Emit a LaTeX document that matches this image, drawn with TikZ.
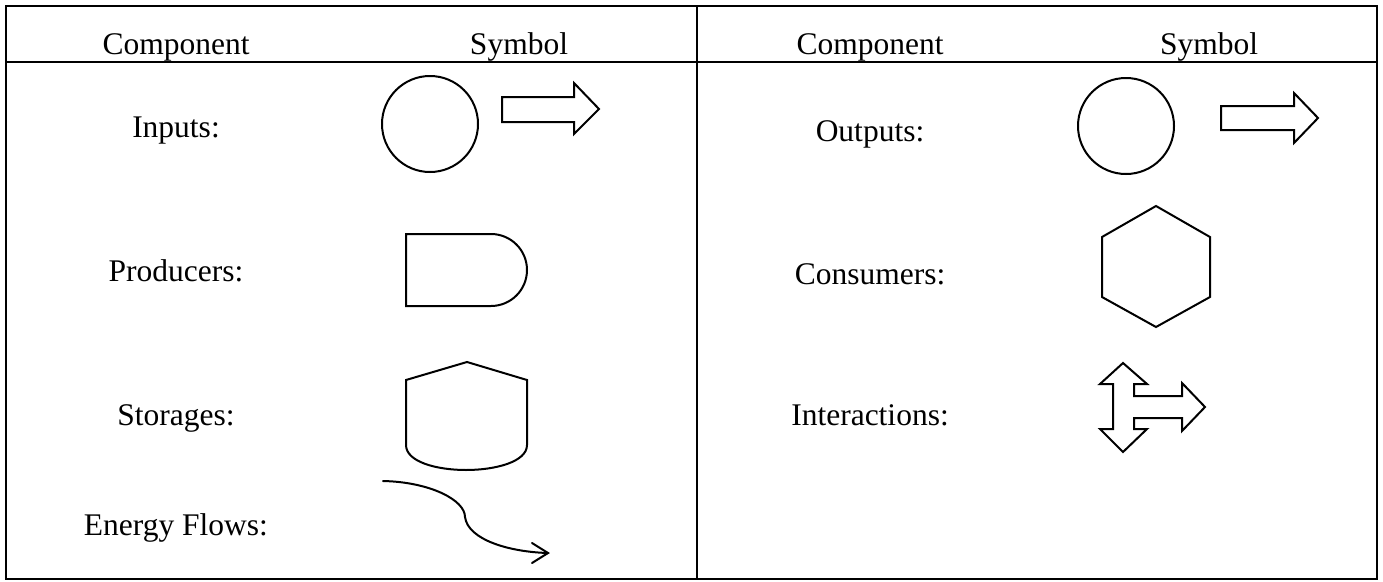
\documentclass[tikz,border=0pt]{standalone}
\usepackage{fontspec}
\setmainfont{Liberation Serif}
\begin{document}
\begin{tikzpicture}[x=1pt,y=-1pt,
  rule/.style={draw=black, line width=2pt},
  shp/.style={draw=black, line width=2pt, line join=miter},
  lbl/.style={font=\fontsize{31.5}{36}\selectfont, anchor=base, inner sep=0pt}]
\useasboundingbox (0,0) rectangle (1383,581);
% table
\draw[rule] (6,6) rectangle (1377,579);
\draw[rule] (6,62) -- (1377,62);
\draw[rule] (697,6) -- (697,579);
% headers
\node[lbl] (hc1) at (176,54) {Component};
\node[lbl] (hs1) at (519,54) {Symbol};
\node[lbl] (hc2) at (870,54) {Component};
\node[lbl] (hs2) at (1209,54) {Symbol};
% row labels
\node[lbl] (inp) at (176,137) {Inputs:};
\node[lbl] (prod) at (176,281) {Producers:};
\node[lbl] (stor) at (176,425) {Storages:};
\node[lbl] (flow) at (176,535) {Energy Flows:};
\node[lbl] (outp) at (870,141) {Outputs:};
\node[lbl] (cons) at (870,284) {Consumers:};
\node[lbl] (inter) at (870,425) {Interactions:};
% inputs
\draw[shp] (430,124) circle (48);
\draw[shp] (502,97) -- (574,97) -- (574,83) -- (599,109) -- (574,134) -- (574,122) -- (502,122) -- cycle;
% outputs
\draw[shp] (1126,126) circle (48);
\draw[shp] (1221,106) -- (1294,106) -- (1294,93) -- (1318,118) -- (1294,143) -- (1294,130) -- (1221,130) -- cycle;
% producers
\draw[shp] (491,234) -- (406,234) -- (406,306) -- (491,306) arc[start angle=90, end angle=-90, radius=36] -- cycle;
% storages
\draw[shp] (467,362) -- (527,380) -- (527,445) .. controls (527,462) and (495,470) .. (466,470) .. controls (437,470) and (406,462) .. (406,445) -- (406,380) -- cycle;
% energy flow
\coordinate (fs) at (383,481);
\coordinate (ft) at (548,553);
\draw[shp, line cap=round] (fs) .. controls (430,482) and (465,500) .. (465,517) .. controls (468,540) and (510,552) .. (ft);
\draw[shp, line cap=round] (532,543) -- (ft) -- (532,563);
% consumers hexagon
\draw[shp] (1156,206) -- (1210,237) -- (1210,297) -- (1156,327) -- (1102,297) -- (1102,237) -- cycle;
% interactions
\draw[shp] (1123,363) -- (1147,384) -- (1134,384) -- (1134,396) -- (1182,396) -- (1182,383) -- (1205,407) -- (1182,431) -- (1182,418) -- (1134,418) -- (1134,429) -- (1147,429) -- (1123,452) -- (1100,429) -- (1113,429) -- (1113,384) -- (1100,384) -- cycle;
\end{tikzpicture}
\end{document}
